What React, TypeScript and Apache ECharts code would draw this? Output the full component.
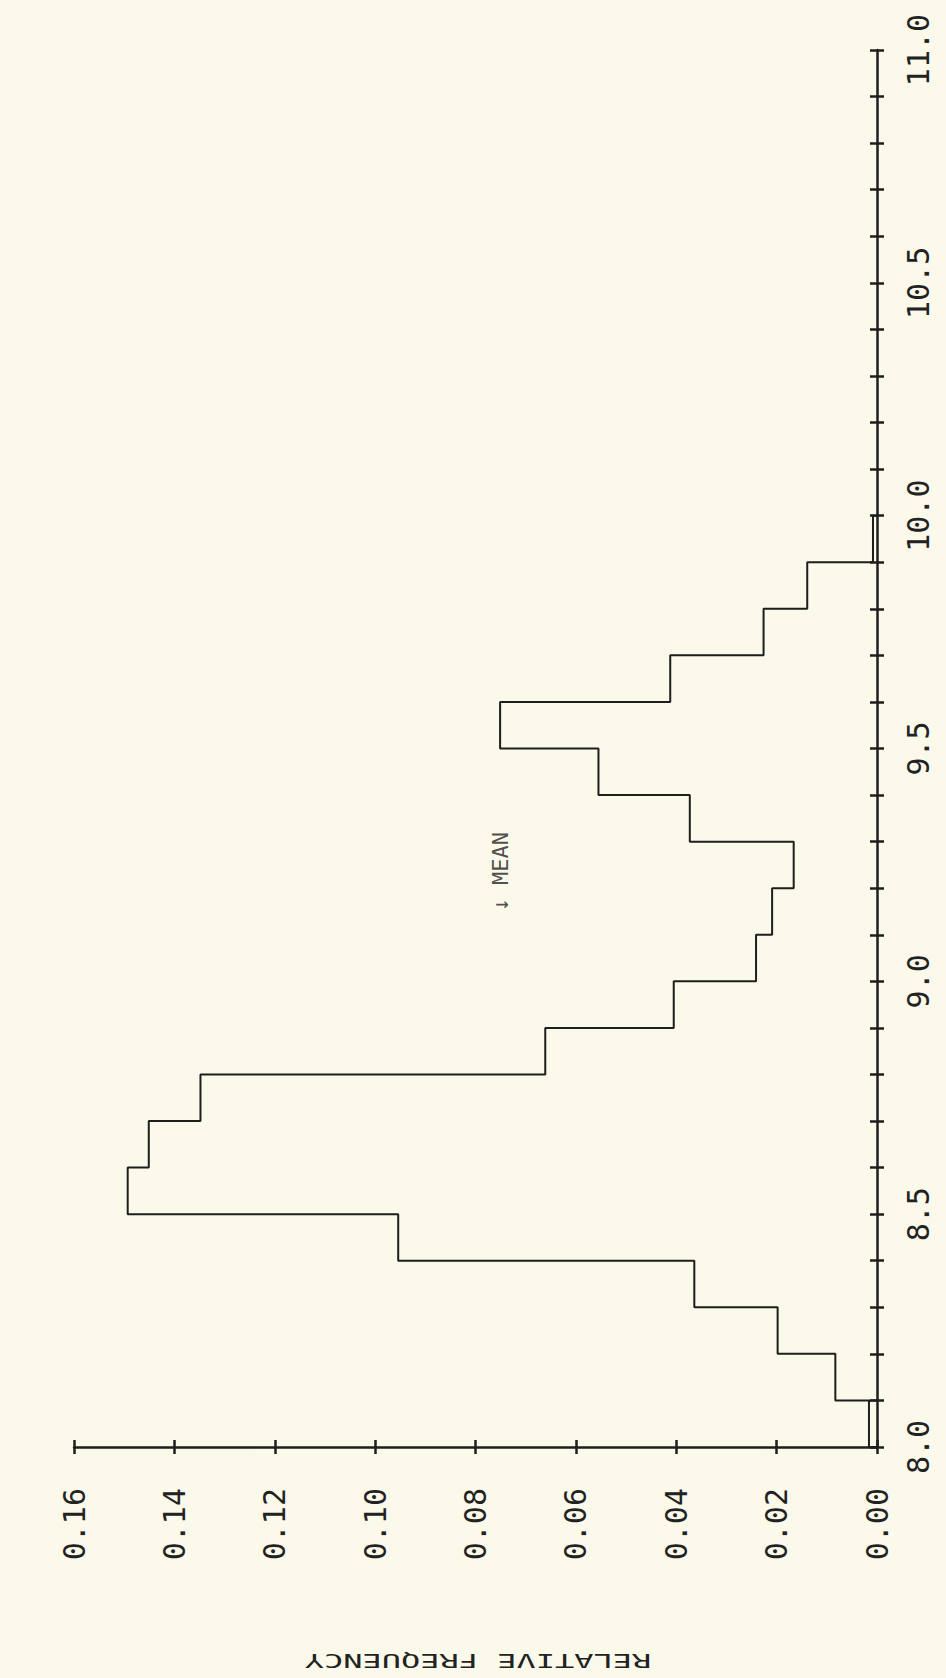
import React, { useEffect, useRef } from 'react';
import * as echarts from 'echarts';

// ---- data ----
const binEdges = [8.0, 8.1, 8.2, 8.3, 8.4, 8.5, 8.6, 8.7, 8.8, 8.9, 9.0, 9.1, 9.2, 9.3, 9.4, 9.5, 9.6, 9.7, 9.8, 9.9, 10.0];
const relativeFrequency = [
  0.0016, 0.0083, 0.0198, 0.0364, 0.0954, 0.1493, 0.1451, 0.1348, 0.0661, 0.0405,
  0.0241, 0.0209, 0.0166, 0.0373, 0.0555, 0.0751, 0.0412, 0.0226, 0.0139, 0.0008,
];
const valueRange = [8.0, 11.0];
const valueTickStep = 0.1;
const valueLabelStep = 0.5;
const freqRange = [0, 0.16];
const freqTickStep = 0.02;
const meanValue = 9.15;
const meanLabelFreq = 0.075;
const axisTitle = 'RELATIVE FREQUENCY';
const meanText = '\u2193 MEAN';

const INK = '#1e1e1e';
const PAPER = '#FBF9EA';
const FONT = '"DejaVu Sans Mono", monospace';

function buildOutline(): number[][] {
  const pts: number[][] = [[0, binEdges[0]]];
  relativeFrequency.forEach((f, i) => {
    pts.push([f, binEdges[i]]);
    pts.push([f, binEdges[i + 1]]);
    if (i === 0) pts.push([0, binEdges[1]]);
  });
  pts.push([0, binEdges[binEdges.length - 1]]);
  return pts;
}

export default function App() {
  const ref = useRef<HTMLDivElement>(null);
  useEffect(() => {
    document.body.style.margin = '0';
    document.body.style.background = PAPER;
    const chart = echarts.init(ref.current!, null, { renderer: 'svg' });
    const tickStyle = { color: INK, width: 2.5 };
    chart.setOption({
      animation: false,
      backgroundColor: PAPER,
      grid: { left: 74, right: 69, top: 50, bottom: 231, containLabel: false },
      xAxis: [
        {
          type: 'value', min: freqRange[0], max: freqRange[1], interval: freqTickStep,
          inverse: true, position: 'bottom',
          axisLine: { show: true, onZero: false, lineStyle: { color: INK, width: 2.5 } },
          axisTick: { show: true, inside: false, length: 7, lineStyle: tickStyle },
          axisLabel: {
            rotate: 90, margin: 41, fontSize: 30, fontFamily: FONT, color: '#222',
            showMinLabel: true, showMaxLabel: true,
            formatter: (v: number) => v.toFixed(2),
          },
          splitLine: { show: false },
        },
        {
          type: 'value', min: freqRange[0], max: freqRange[1], interval: freqTickStep,
          inverse: true, position: 'bottom',
          axisLine: { show: false, onZero: false },
          axisTick: { show: true, inside: true, length: 7, lineStyle: tickStyle },
          axisLabel: { show: false },
          splitLine: { show: false },
        },
      ],
      yAxis: [
        {
          type: 'value', min: valueRange[0], max: valueRange[1], interval: valueTickStep,
          position: 'right',
          axisLine: { show: true, onZero: false, lineStyle: { color: INK, width: 2.5 } },
          axisTick: { show: true, inside: false, length: 7, lineStyle: tickStyle },
          axisLabel: {
            rotate: 90, margin: 26, fontSize: 30, fontFamily: FONT, color: '#222',
            showMinLabel: true, showMaxLabel: true,
            formatter: (v: number) => {
              const k = v / valueLabelStep;
              return Math.abs(k - Math.round(k)) < 1e-6 ? v.toFixed(1) : '';
            },
          },
          splitLine: { show: false },
        },
        {
          type: 'value', min: valueRange[0], max: valueRange[1], interval: valueTickStep,
          position: 'right',
          axisLine: { show: false, onZero: false },
          axisTick: { show: true, inside: true, length: 7, lineStyle: tickStyle },
          axisLabel: { show: false },
          splitLine: { show: false },
        },
      ],
      series: [
        {
          type: 'line', xAxisIndex: 0, yAxisIndex: 0,
          data: buildOutline(),
          showSymbol: false, symbol: 'none',
          lineStyle: { color: INK, width: 2 },
          silent: true,
        },
        {
          type: 'scatter', xAxisIndex: 0, yAxisIndex: 0,
          data: [[meanLabelFreq, meanValue]],
          symbolSize: 0,
          silent: true,
          label: {
            show: true, position: 'inside', rotate: 90,
            align: 'left', verticalAlign: 'middle',
            formatter: meanText, fontSize: 22, fontFamily: FONT, color: '#222',
          },
        },
      ],
      graphic: [
        {
          type: 'text', x: 478, y: 1661, rotation: Math.PI, scaleX: 1.6,
          style: {
            text: axisTitle, fontSize: 20, fontFamily: FONT, fill: '#222',
            align: 'center', verticalAlign: 'middle',
          },
        },
      ],
    });
    return () => chart.dispose();
  }, []);
  return (
    <div
      ref={ref}
      style={{ position: 'absolute', left: 0, top: 0, width: 946, height: 1678, background: PAPER }}
    />
  );
}
